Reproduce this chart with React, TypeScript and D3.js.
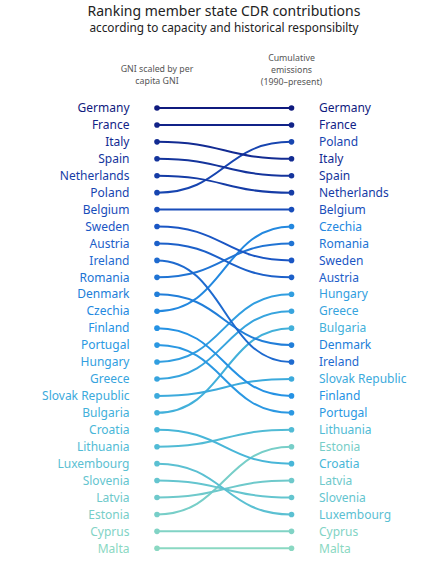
import React, { useEffect, useRef } from "react";
import * as d3 from "d3";

// ranking by GNI scaled by per capita GNI (top to bottom)
const gniRanking = [
  "Germany", "France", "Italy", "Spain", "Netherlands", "Poland", "Belgium",
  "Sweden", "Austria", "Ireland", "Romania", "Denmark", "Czechia", "Finland",
  "Portugal", "Hungary", "Greece", "Slovak Republic", "Bulgaria", "Croatia",
  "Lithuania", "Luxembourg", "Slovenia", "Latvia", "Estonia", "Cyprus", "Malta",
];

// ranking by cumulative emissions since 1990
const emissionsRanking = [
  "Germany", "France", "Poland", "Italy", "Spain", "Netherlands", "Belgium",
  "Czechia", "Romania", "Sweden", "Austria", "Hungary", "Greece", "Bulgaria",
  "Denmark", "Ireland", "Slovak Republic", "Finland", "Portugal", "Lithuania",
  "Estonia", "Croatia", "Latvia", "Slovenia", "Luxembourg", "Cyprus", "Malta",
];

const leftHeader = ["GNI scaled by per", "capita GNI"];
const rightHeader = ["Cumulative", "emissions", "(1990–present)"];

const FONT = "'Noto Sans', sans-serif";

const App = () => {
  const svgRef = useRef<SVGSVGElement>(null);

  useEffect(() => {
    const svg = d3.select(svgRef.current);
    svg.selectAll("*").remove();

    const xLeft = 157;
    const xRight = 291.5;
    const xTitle = 224;

    const y = d3
      .scalePoint<number>()
      .domain(d3.range(gniRanking.length))
      .range([108, 548.3]);

    // colour follows the left-hand rank, navy through blue to mint
    const color = d3
      .scaleLinear<string>()
      .domain([0, 7, 13, 19, 26])
      .range(["#0f1a7e", "#1a56c4", "#2592e4", "#48b6d8", "#8ad8c2"])
      .interpolate(d3.interpolateRgb);

    const colorOf = (name: string) => color(gniRanking.indexOf(name));

    // titles
    svg
      .append("text")
      .attr("x", xTitle)
      .attr("y", 16)
      .attr("text-anchor", "middle")
      .style("font-family", FONT)
      .style("font-size", "14px")
      .attr("fill", "#222")
      .text("Ranking member state CDR contributions");

    svg
      .append("text")
      .attr("x", xTitle)
      .attr("y", 32)
      .attr("text-anchor", "middle")
      .style("font-family", FONT)
      .style("font-size", "11.8px")
      .attr("fill", "#222")
      .text("according to capacity and historical responsibilty");

    // column headers
    const header = (lines: string[], x: number, y0: number) => {
      lines.forEach((line, i) => {
        svg
          .append("text")
          .attr("x", x)
          .attr("y", y0 + i * 12)
          .attr("text-anchor", "middle")
          .style("font-family", FONT)
          .style("font-size", "8.8px")
          .attr("fill", "#555")
          .text(line);
      });
    };
    header(leftHeader, xLeft, 72);
    header(rightHeader, xRight, 60.5);

    const link = d3
      .linkHorizontal<any, [number, number]>()
      .source((d) => d[0])
      .target((d) => d[1]);

    const rows = gniRanking.map((name, i) => ({
      name,
      left: i,
      right: emissionsRanking.indexOf(name),
    }));

    // connecting curves (lower ranks drawn first)
    svg
      .append("g")
      .selectAll("path")
      .data(rows.slice().reverse())
      .enter()
      .append("path")
      .attr("d", (d) =>
        link([
          [xLeft, y(d.left)!],
          [xRight, y(d.right)!],
        ] as any)
      )
      .attr("fill", "none")
      .attr("stroke", (d) => colorOf(d.name))
      .attr("stroke-width", 2);

    // dots
    const dots = svg.append("g");
    rows.forEach((d) => {
      dots
        .append("circle")
        .attr("cx", xLeft)
        .attr("cy", y(d.left)!)
        .attr("r", 2.8)
        .attr("fill", colorOf(d.name));
      dots
        .append("circle")
        .attr("cx", xRight)
        .attr("cy", y(d.right)!)
        .attr("r", 2.8)
        .attr("fill", colorOf(d.name));
    });

    // country labels
    svg
      .append("g")
      .selectAll("text")
      .data(rows)
      .enter()
      .append("text")
      .attr("x", 129.5)
      .attr("y", (d) => y(d.left)!)
      .attr("dy", "0.35em")
      .attr("text-anchor", "end")
      .style("font-family", FONT)
      .style("font-size", "12px")
      .attr("fill", (d) => colorOf(d.name))
      .text((d) => d.name);

    svg
      .append("g")
      .selectAll("text")
      .data(rows)
      .enter()
      .append("text")
      .attr("x", 319)
      .attr("y", (d) => y(d.right)!)
      .attr("dy", "0.35em")
      .style("font-family", FONT)
      .style("font-size", "12px")
      .attr("fill", (d) => colorOf(d.name))
      .text((d) => d.name);
  }, []);

  return (
    <svg
      ref={svgRef}
      width={432}
      height={576}
      style={{ position: "absolute", left: 0, top: 0, background: "#fff" }}
    />
  );
};

export default App;
